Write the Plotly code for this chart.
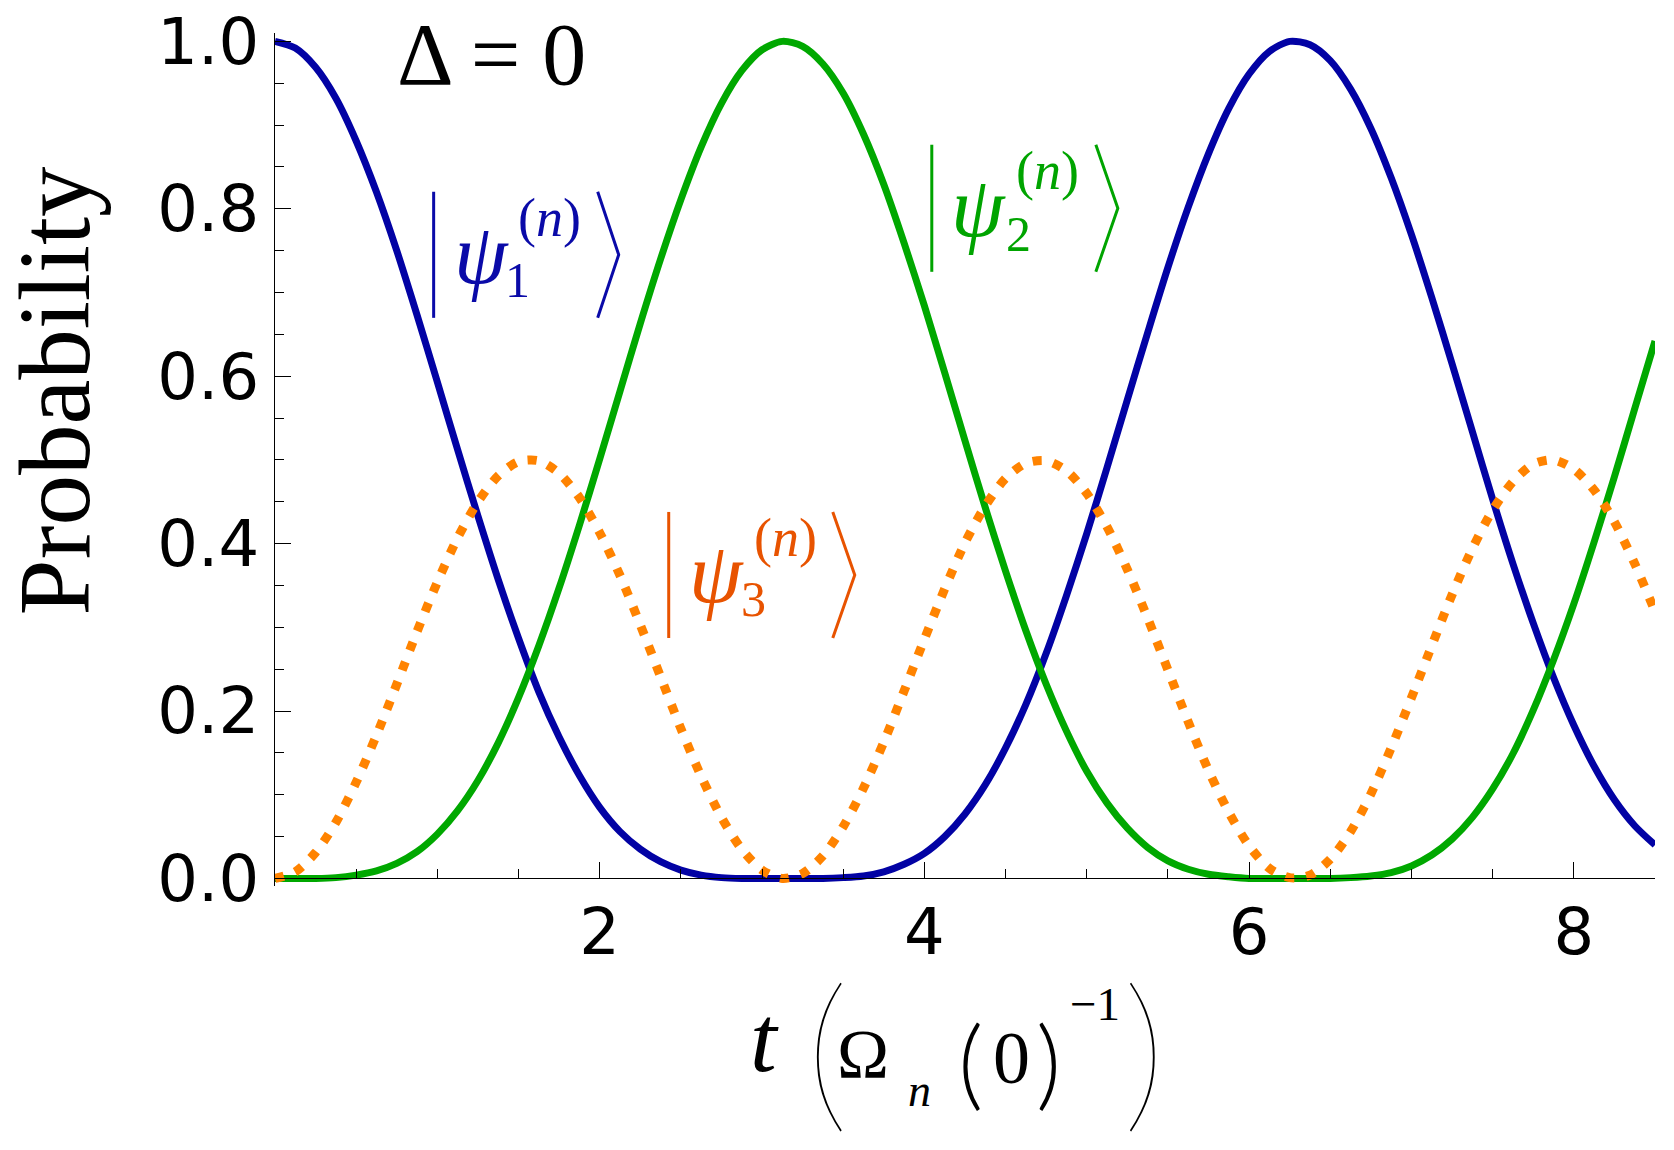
import plotly.graph_objects as go

# ---- data ----
t_vals = [0.0, 0.125, 0.25, 0.375, 0.5, 0.625, 0.75, 0.875, 1.0, 1.125, 1.25, 1.375,
          1.5, 1.625, 1.75, 1.875, 2.0, 2.125, 2.25, 2.375, 2.5, 2.625, 2.75, 2.875,
          3.0, 3.125, 3.25, 3.375, 3.5, 3.625, 3.75, 3.875, 4.0, 4.125, 4.25, 4.375,
          4.5, 4.625, 4.75, 4.875, 5.0, 5.125, 5.25, 5.375, 5.5, 5.625, 5.75, 5.875,
          6.0, 6.125, 6.25, 6.375, 6.5, 6.625, 6.75, 6.875, 7.0, 7.125, 7.25, 7.375,
          7.5, 7.625, 7.75, 7.875, 8.0, 8.125, 8.25, 8.375, 8.5]
psi1 = [1.000, 0.992, 0.969, 0.932, 0.881, 0.820, 0.750, 0.673, 0.593, 0.512, 0.433, 0.357,
        0.287, 0.223, 0.169, 0.123, 0.085, 0.056, 0.035, 0.020, 0.010, 0.004, 0.001, 0.000,
        0.000, 0.000, 0.000, 0.000, 0.001, 0.003, 0.008, 0.017, 0.030, 0.050, 0.077, 0.112,
        0.156, 0.208, 0.269, 0.338, 0.412, 0.491, 0.572, 0.652, 0.730, 0.802, 0.866, 0.920,
        0.961, 0.988, 1.000, 0.996, 0.977, 0.943, 0.896, 0.837, 0.769, 0.694, 0.615, 0.534,
        0.453, 0.376, 0.305, 0.240, 0.183, 0.134, 0.094, 0.063, 0.040]
psi2 = [0.000, 0.000, 0.000, 0.001, 0.004, 0.009, 0.018, 0.032, 0.053, 0.081, 0.117, 0.162,
        0.216, 0.278, 0.347, 0.422, 0.501, 0.582, 0.663, 0.740, 0.811, 0.874, 0.926, 0.965,
        0.990, 1.000, 0.994, 0.973, 0.938, 0.889, 0.829, 0.759, 0.684, 0.604, 0.523, 0.443,
        0.367, 0.296, 0.232, 0.176, 0.128, 0.090, 0.060, 0.037, 0.021, 0.011, 0.005, 0.002,
        0.000, 0.000, 0.000, 0.000, 0.000, 0.001, 0.003, 0.007, 0.015, 0.028, 0.047, 0.073,
        0.107, 0.149, 0.201, 0.261, 0.328, 0.402, 0.480, 0.561, 0.642]
psi3 = [0.000, 0.008, 0.031, 0.067, 0.115, 0.171, 0.232, 0.295, 0.354, 0.407, 0.450, 0.481,
        0.498, 0.499, 0.484, 0.455, 0.413, 0.362, 0.303, 0.241, 0.179, 0.122, 0.073, 0.035,
        0.010, 0.000, 0.006, 0.027, 0.062, 0.108, 0.163, 0.224, 0.286, 0.346, 0.401, 0.445,
        0.478, 0.496, 0.499, 0.487, 0.460, 0.420, 0.369, 0.311, 0.249, 0.187, 0.129, 0.079,
        0.039, 0.012, 0.001, 0.004, 0.023, 0.056, 0.101, 0.156, 0.216, 0.278, 0.339, 0.394,
        0.440, 0.474, 0.495, 0.500, 0.489, 0.464, 0.426, 0.376, 0.319]

x_major = [2, 4, 6, 8]
x_labels = ["2", "4", "6", "8"]
x_minor = [0.5, 1.0, 1.5, 2.5, 3.0, 3.5, 4.5, 5.0, 5.5, 6.5, 7.0, 7.5, 8.5]
y_major = [0.0, 0.2, 0.4, 0.6, 0.8, 1.0]
y_labels = ["0.0", "0.2", "0.4", "0.6", "0.8", "1.0"]
y_minor = [0.05, 0.1, 0.15, 0.25, 0.3, 0.35, 0.45, 0.5, 0.55, 0.65, 0.7, 0.75,
           0.85, 0.9, 0.95]

BLUE = "#0202A4"
GREEN = "#00A800"
ORANGE = "#FF8300"
BLUE_T = "#0A0AA8"
GREEN_T = "#00A400"
ORANGE_T = "#E85300"

OFF = 8                      # page body margin
W_FIG, H_FIG = 1674 - 2 * OFF, 1150 - 2 * OFF
# plot geometry in screen pixels
L, R = 275.4, 1655.0
Y0_PX, Y1_PX = 878.3, 41.7
YR = [-0.009, 1.01]
per = Y0_PX - Y1_PX
TOP = Y1_PX - (YR[1] - 1.0) * per
BOT = Y0_PX - YR[0] * per
PW, PH = R - L, BOT - TOP


def px(xp):
    return (xp - L) / PW


def py(yp):
    return (BOT - yp) / PH


fig = go.Figure()
fig.add_trace(go.Scatter(x=t_vals, y=psi1, mode="lines",
                         line=dict(color=BLUE, width=7, shape="spline", smoothing=0.8)))
fig.add_trace(go.Scatter(x=t_vals, y=psi2, mode="lines",
                         line=dict(color=GREEN, width=7, shape="spline", smoothing=0.8)))
fig.add_trace(go.Scatter(x=t_vals, y=psi3, mode="lines",
                         line=dict(color=ORANGE, width=9, shape="spline", smoothing=0.8,
                                   dash="9px,12px")))

SERIF = "Liberation Serif"
ann = []


def txt(text, xc, yc, size, color="black", angle=0, family=SERIF, weight=None):
    f = dict(family=family, size=size, color=color)
    if weight is not None:
        f["weight"] = weight
    ann.append(dict(text=text, x=px(xc), y=py(yc), xref="paper", yref="paper",
                    xanchor="center", yanchor="middle", showarrow=False,
                    textangle=angle, font=f))


# y-axis title
txt("Probability", 55, 391, 101, angle=-90)
# Delta = 0
txt("Δ = 0", 492, 55, 88)

# x-axis title pieces
txt("<i>t</i>", 765, 1038, 96)
txt("(", 828, 1045, 170, family="Lato", weight=200)
txt("Ω", 863, 1054, 70)
txt("<i>n</i>", 920, 1090, 46)
txt("(", 971, 1060, 98, family="Lato", weight=300)
txt("0", 1012, 1058, 74)
txt(")", 1049, 1060, 98, family="Lato", weight=300)
txt("−1", 1095, 1004, 47)
txt(")", 1145, 1045, 170, family="Lato", weight=200)

shapes = []


def ket(bar_x, y_top, y_bot, br_x, br_tip, color, psi_c, sub, sub_c, sup_c):
    shapes.append(dict(type="line", xref="paper", yref="paper",
                       x0=px(bar_x), x1=px(bar_x), y0=py(y_top), y1=py(y_bot),
                       line=dict(color=color, width=3)))
    ym = (y_top + y_bot) / 2
    path = "M {:.5f},{:.5f} L {:.5f},{:.5f} L {:.5f},{:.5f}".format(
        px(br_x), py(y_top), px(br_tip), py(ym), px(br_x), py(y_bot))
    shapes.append(dict(type="path", xref="paper", yref="paper", path=path,
                       line=dict(color=color, width=3)))
    txt("<i>ψ</i>", psi_c[0], psi_c[1] - 0.18 * 86 + 5, 86, color)
    txt(sub, sub_c[0], sub_c[1] - 0.1 * 50 + 4, 50, color)
    txt("(<i>n</i>)", sup_c[0], sup_c[1] - 0.2 * 54 + 4, 54, color)


ket(434, 192, 318, 598, 619, BLUE_T, (481.5, 265), "1", (517.5, 281.5), (550, 225))
ket(932, 145, 272, 1096, 1118, GREEN_T, (979, 218), "2", (1019, 235), (1047.5, 178.5))
ket(669, 512, 638, 833, 855, ORANGE_T, (716.5, 583), "3", (754, 600), (786, 545))

tickfont = dict(family="DejaVu Sans", size=64, color="black")

fig.update_layout(
    width=W_FIG, height=H_FIG,
    margin=dict(l=L - OFF, r=W_FIG - (R - OFF), t=TOP - OFF, b=H_FIG - (BOT - OFF),
                pad=0, autoexpand=False),
    plot_bgcolor="white", paper_bgcolor="white",
    showlegend=False,
    annotations=ann, shapes=shapes,
    xaxis=dict(range=[0, 8.5], anchor="free", position=(0 - YR[0]) / (YR[1] - YR[0]),
               showgrid=False, zeroline=False, showline=True, linecolor="black",
               linewidth=1.2, ticks="inside", ticklen=16, tickwidth=1.2,
               tickcolor="black", tickmode="array", tickvals=x_major,
               ticktext=x_labels, tickfont=tickfont, ticklabelstandoff=-2,
               ticklabeloverflow="allow",
               minor=dict(tickmode="array", tickvals=x_minor, ticks="inside",
                          ticklen=9, tickwidth=1, tickcolor="black", showgrid=False)),
    yaxis=dict(range=YR, showgrid=False, zeroline=False, showline=True,
               linecolor="black", linewidth=1.2, ticks="inside", ticklen=16,
               tickwidth=1.2, tickcolor="black", tickmode="array", tickvals=y_major,
               ticktext=y_labels, tickfont=tickfont, ticklabelstandoff=2,
               ticklabeloverflow="allow",
               minor=dict(tickmode="array", tickvals=y_minor, ticks="inside",
                          ticklen=9, tickwidth=1, tickcolor="black", showgrid=False)),
)

fig.write_html("out.html")
